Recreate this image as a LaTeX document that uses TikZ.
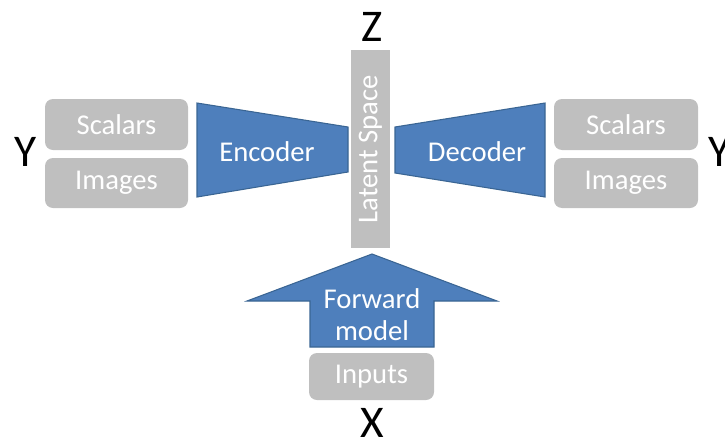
\documentclass[tikz,border=0pt]{standalone}
\usepackage{fontspec}
\setmainfont{Carlito}
\begin{document}
\begin{tikzpicture}[x=0.75pt,y=-0.75pt,
  greybox/.style={fill=boxgrey,draw=none,rounded corners=6pt,inner sep=0pt,
    text=white,font=\fontsize{21.5}{26}\selectfont},
  bluebody/.style={fill=netblue,draw=netedge,line width=0.8pt,line join=miter},
  bluetext/.style={text=white,font=\fontsize{21.5}{26}\selectfont,align=center,inner sep=0pt},
  biglabel/.style={text=black,font=\fontsize{34}{40}\selectfont,inner sep=0pt}]
\definecolor{boxgrey}{HTML}{BFBFBF}
\definecolor{netblue}{HTML}{4E7FBC}
\definecolor{netedge}{HTML}{3A6593}
\useasboundingbox (0,0) rectangle (725,443);
\clip (0,0) rectangle (725,443);

% input side (left)
\node[greybox,minimum width=107.25pt,minimum height=38.25pt] (scalL) at (116.5,124.5) {Scalars};
\node[greybox,minimum width=107.25pt,minimum height=37.5pt] (imgL) at (116.5,183) {Images};
\node[biglabel] (yL) at (26,152) {Y};

% encoder trapezoid
\draw[bluebody] (197,103) -- (348,127) -- (348,172) -- (197,197) -- cycle;
\node[bluetext] (enc) at (267,152) {Encoder};

% latent space bar
\node[fill=boxgrey,minimum width=29.25pt,minimum height=148.5pt,inner sep=0pt] (lat) at (370.5,149) {};
\node[bluetext,rotate=90] (latt) at (lat.center) {Latent Space};
\node[biglabel] (z) at (372,27) {Z};

% decoder trapezoid
\draw[bluebody] (395,127) -- (545,103) -- (545,197) -- (395,173) -- cycle;
\node[bluetext] (dec) at (477,152) {Decoder};

% output side (right)
\node[greybox,minimum width=108pt,minimum height=38.25pt] (scalR) at (626,124.5) {Scalars};
\node[greybox,minimum width=108pt,minimum height=37.5pt] (imgR) at (626,183) {Images};
\node[biglabel] (yR) at (720,152) {Y};

% forward model arrow
\draw[bluebody] (372,254) -- (497,301) -- (434,301) -- (434,347) -- (310,347) -- (310,301) -- (247,301) -- cycle;
\node[bluetext] (fwd) at (372,315) {Forward\\[-2pt]model};

% inputs
\node[greybox,minimum width=93.75pt,minimum height=35.25pt] (inp) at (371.5,376.5) {Inputs};
\node[biglabel] (x) at (372,423) {X};
\end{tikzpicture}
\end{document}
